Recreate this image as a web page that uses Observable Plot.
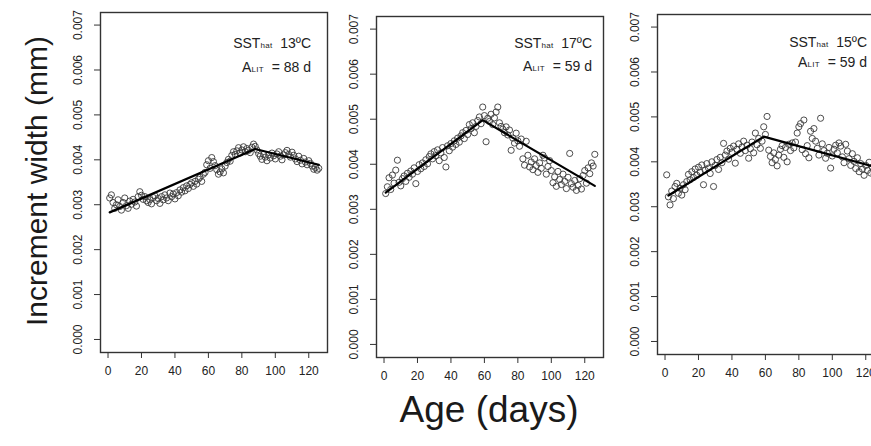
<!DOCTYPE html>
<html>
<head>
<meta charset="utf-8">
<script src="https://cdn.jsdelivr.net/npm/d3@7"></script>
<script src="https://cdn.jsdelivr.net/npm/@observablehq/plot@0.6"></script>
<style>
  html, body { margin: 0; padding: 0; background: white; }
  #wrap { position: relative; width: 871px; height: 446px; overflow: hidden; background: white;
          font-family: "Liberation Sans", Arial, sans-serif; color: #222; }
  .panel { position: absolute; top: 0; }
  .ytitle { position: absolute; left: 37px; top: 181px; transform: translate(-50%, -50%) rotate(-90deg);
            white-space: nowrap; font-size: 30px; color: #1a1a1a; }
  .xtitle { position: absolute; left: 489px; top: 410px; transform: translate(-50%, -50%);
            white-space: nowrap; font-size: 37px; color: #1a1a1a; }
  .ann { position: absolute; white-space: nowrap; font-size: 14px; color: #222; transform: translateY(-50%); text-align: right; }
  .ann sub { font-size: 8px; vertical-align: 0px; letter-spacing: 0.3px; }
</style>
</head>
<body>
<div id="wrap">
  <div class="ytitle">Increment width (mm)</div>
  <div class="xtitle">Age (days)</div>
</div>
<script>
// ---- data ----
const ages = [1,2,3,4,5,6,7,8,9,10,11,12,13,14,15,16,17,18,19,20,21,22,23,24,25,26,27,28,29,30,
  31,32,33,34,35,36,37,38,39,40,41,42,43,44,45,46,47,48,49,50,51,52,53,54,55,56,57,58,59,60,
  61,62,63,64,65,66,67,68,69,70,71,72,73,74,75,76,77,78,79,80,81,82,83,84,85,86,87,88,89,90,
  91,92,93,94,95,96,97,98,99,100,101,102,103,104,105,106,107,108,109,110,111,112,113,114,115,116,117,118,119,120,
  121,122,123,124,125,126];

const width13 = [0.00315,0.00322,0.00305,0.00292,0.00300,0.00311,0.00296,0.00288,0.00305,0.00315,
  0.00298,0.00292,0.00308,0.00301,0.00312,0.00306,0.00297,0.00318,0.00329,0.00321,
  0.00312,0.00318,0.00309,0.00305,0.00311,0.00302,0.00316,0.00320,0.00309,0.00314,
  0.00303,0.00318,0.00311,0.00322,0.00315,0.00309,0.00326,0.00318,0.00324,0.00313,
  0.00327,0.00320,0.00333,0.00328,0.00338,0.00331,0.00342,0.00336,0.00345,0.00349,
  0.00341,0.00352,0.00346,0.00357,0.00361,0.00352,0.00368,0.00372,0.00389,0.00398,
  0.00381,0.00405,0.00396,0.00387,0.00378,0.00368,0.00373,0.00380,0.00371,0.00386,
  0.00394,0.00401,0.00397,0.00410,0.00418,0.00412,0.00420,0.00427,0.00415,0.00422,
  0.00429,0.00418,0.00425,0.00421,0.00416,0.00428,0.00435,0.00430,0.00422,0.00414,
  0.00408,0.00401,0.00412,0.00406,0.00398,0.00411,0.00404,0.00415,0.00409,0.00402,
  0.00413,0.00418,0.00408,0.00400,0.00411,0.00416,0.00421,0.00412,0.00406,0.00417,
  0.00410,0.00402,0.00396,0.00408,0.00399,0.00391,0.00403,0.00395,0.00389,0.00398,
  0.00392,0.00386,0.00379,0.00383,0.00377,0.00381];

const width17 = [0.00335,0.00350,0.00370,0.00344,0.00376,0.00358,0.00387,0.00409,0.00360,0.00352,
  0.00368,0.00374,0.00362,0.00380,0.00371,0.00385,0.00378,0.00392,0.00357,0.00384,
  0.00399,0.00390,0.00403,0.00395,0.00410,0.00401,0.00417,0.00423,0.00412,0.00428,
  0.00419,0.00432,0.00408,0.00425,0.00437,0.00415,0.00394,0.00441,0.00430,0.00446,
  0.00438,0.00452,0.00444,0.00458,0.00449,0.00463,0.00470,0.00457,0.00475,0.00466,
  0.00488,0.00479,0.00492,0.00470,0.00484,0.00497,0.00505,0.00490,0.00527,0.00508,
  0.00450,0.00502,0.00495,0.00511,0.00488,0.00503,0.00516,0.00527,0.00492,0.00484,
  0.00478,0.00470,0.00483,0.00465,0.00476,0.00431,0.00458,0.00447,0.00469,0.00452,
  0.00440,0.00456,0.00412,0.00398,0.00451,0.00420,0.00394,0.00405,0.00388,0.00412,
  0.00397,0.00382,0.00403,0.00391,0.00420,0.00414,0.00378,0.00395,0.00408,0.00386,
  0.00359,0.00372,0.00351,0.00384,0.00366,0.00355,0.00378,0.00362,0.00346,0.00371,
  0.00424,0.00357,0.00349,0.00364,0.00342,0.00353,0.00368,0.00345,0.00375,0.00386,
  0.00358,0.00392,0.00379,0.00403,0.00396,0.00422];

const width15 = [0.00371,0.00322,0.00304,0.00335,0.00318,0.00345,0.00352,0.00330,0.00341,0.00326,
  0.00349,0.00338,0.00356,0.00372,0.00360,0.00378,0.00365,0.00384,0.00370,0.00388,
  0.00377,0.00393,0.00349,0.00381,0.00396,0.00386,0.00374,0.00400,0.00345,0.00392,
  0.00405,0.00383,0.00410,0.00398,0.00441,0.00415,0.00424,0.00406,0.00430,0.00421,
  0.00435,0.00397,0.00428,0.00440,0.00419,0.00433,0.00446,0.00425,0.00437,0.00408,
  0.00429,0.00444,0.00420,0.00464,0.00438,0.00452,0.00430,0.00446,0.00478,0.00461,
  0.00501,0.00426,0.00412,0.00398,0.00420,0.00405,0.00391,0.00415,0.00428,0.00436,
  0.00410,0.00432,0.00400,0.00439,0.00425,0.00442,0.00431,0.00444,0.00464,0.00478,
  0.00485,0.00427,0.00493,0.00418,0.00436,0.00409,0.00468,0.00452,0.00474,0.00446,
  0.00430,0.00415,0.00497,0.00440,0.00425,0.00408,0.00419,0.00432,0.00386,0.00413,
  0.00428,0.00437,0.00420,0.00442,0.00435,0.00411,0.00398,0.00439,0.00424,0.00407,
  0.00392,0.00418,0.00401,0.00385,0.00409,0.00378,0.00396,0.00384,0.00370,0.00392,
  0.00381,0.00399,0.00375,0.00388,0.00372,0.00383];

// piecewise fits (breakpoint = A_LIT)
const fitAge13 = [1, 88, 126];
const fitVal13 = [0.00283, 0.00424, 0.00389];
const fitAge17 = [1, 59, 126];
const fitVal17 = [0.00337, 0.00498, 0.00352];
const fitAge15 = [2, 59, 126];
const fitVal15 = [0.00325, 0.00456, 0.00388];

const sstLabels = ["13ºC", "17ºC", "15ºC"];
const alitLabels = ["88 d", "59 d", "59 d"];

const xTicks = [0, 20, 40, 60, 80, 100, 120];
const yTicks = [0, 0.001, 0.002, 0.003, 0.004, 0.005, 0.006, 0.007];

// ---- drawing ----
const font = '"Liberation Sans", Arial, sans-serif';
const wrap = document.getElementById("wrap");

const panels = [
  {vals: width13, fa: fitAge13, fv: fitVal13, left: 0,   top: 12, bottom: 352},
  {vals: width17, fa: fitAge17, fv: fitVal17, left: 276, top: 16, bottom: 357},
  {vals: width15, fa: fitAge15, fv: fitVal15, left: 557, top: 14, bottom: 354}
];
const annPos = [
  {right: 311, y1: 43, y2: 67},
  {right: 592, y1: 43, y2: 66},
  {right: 867, y1: 42, y2: 62}
];

panels.forEach((p, i) => {
  const H = 400;
  const pts = ages.map((a, j) => ({age: a, w: p.vals[j]}));
  const fit = p.fa.map((a, j) => ({age: a, w: p.fv[j]}));
  const chart = Plot.plot({
    width: 340,
    height: H,
    marginLeft: 100,
    marginRight: 13,
    marginTop: p.top,
    marginBottom: H - p.bottom,
    style: {background: "transparent", fontFamily: font, fontSize: "12px", color: "#222", maxWidth: "none", overflow: "visible"},
    x: {domain: [-4.5, 131.2]},
    y: {domain: [-0.00029, 0.00728]},
    marks: [
      Plot.axisX(xTicks, {tickSize: 6, tickPadding: 8, fontSize: 12, stroke: "#333", label: null, tickFormat: d => String(d)}),
      Plot.axisY(yTicks, {tickSize: 6, tickFormat: () => "", label: null, stroke: "#333"}),
      Plot.text(yTicks, {y: d => d, text: d => d.toFixed(3), frameAnchor: "left", rotate: -90, dx: -22,
                         textAnchor: "middle", lineAnchor: "middle", fontSize: 12, fill: "#222"}),
      Plot.dot(pts, {x: "age", y: "w", r: 3.1, stroke: "#3a3a3a", strokeWidth: 0.9, fill: "none"}),
      Plot.line(fit, {x: "age", y: "w", stroke: "#000", strokeWidth: 2.2}),
      Plot.frame({stroke: "#333", strokeWidth: 1.4})
    ]
  });
  chart.classList.add("panel");
  chart.style.position = "absolute";
  chart.style.left = p.left + "px";
  chart.style.top = "0px";
  wrap.appendChild(chart);

  const a = annPos[i];
  const l1 = document.createElement("div");
  l1.className = "ann";
  l1.style.right = (871 - a.right) + "px";
  l1.style.top = a.y1 + "px";
  l1.innerHTML = "SST<sub>hat</sub>&nbsp; " + sstLabels[i];
  wrap.appendChild(l1);
  const l2 = document.createElement("div");
  l2.className = "ann";
  l2.style.right = (871 - a.right) + "px";
  l2.style.top = a.y2 + "px";
  l2.innerHTML = "A<sub>LIT</sub>&nbsp; = " + alitLabels[i];
  wrap.appendChild(l2);
});
</script>
</body>
</html>
